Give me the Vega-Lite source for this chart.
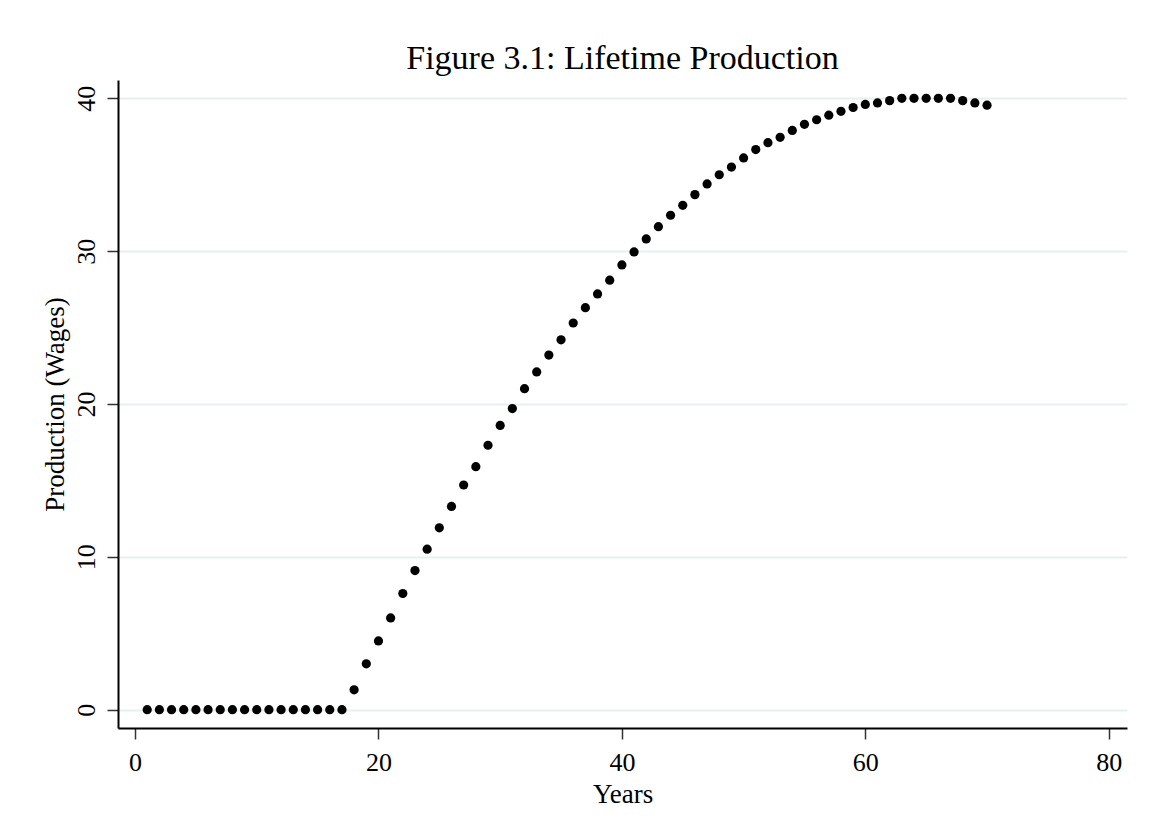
{
  "$schema": "https://vega.github.io/schema/vega-lite/v6.json",
  "width": 1009,
  "height": 648,
  "autosize": "none",
  "padding": {"left": 118, "top": 80, "right": 24, "bottom": 109},
  "background": "white",
  "title": {
    "text": "Figure 3.1: Lifetime Production",
    "font": "Liberation Serif",
    "fontSize": 34,
    "fontWeight": "normal",
    "color": "black",
    "anchor": "middle",
    "offset": 4
  },
  "config": {
    "view": {"stroke": null},
    "axis": {
      "labelFont": "Liberation Serif",
      "titleFont": "Liberation Serif",
      "labelFontSize": 26,
      "titleFontSize": 27,
      "titleFontWeight": "normal",
      "labelColor": "black",
      "titleColor": "black",
      "domainColor": "black",
      "domainWidth": 2,
      "tickColor": "#333333",
      "tickWidth": 1.5,
      "tickSize": 11
    }
  },
  "data": {
    "values": [
      {"year": 1, "wages": 0}, {"year": 2, "wages": 0}, {"year": 3, "wages": 0},
      {"year": 4, "wages": 0}, {"year": 5, "wages": 0}, {"year": 6, "wages": 0},
      {"year": 7, "wages": 0}, {"year": 8, "wages": 0}, {"year": 9, "wages": 0},
      {"year": 10, "wages": 0}, {"year": 11, "wages": 0}, {"year": 12, "wages": 0},
      {"year": 13, "wages": 0}, {"year": 14, "wages": 0}, {"year": 15, "wages": 0},
      {"year": 16, "wages": 0}, {"year": 17, "wages": 0},
      {"year": 18, "wages": 1.3}, {"year": 19, "wages": 3.0}, {"year": 20, "wages": 4.5},
      {"year": 21, "wages": 6.0}, {"year": 22, "wages": 7.6}, {"year": 23, "wages": 9.1},
      {"year": 24, "wages": 10.5}, {"year": 25, "wages": 11.9}, {"year": 26, "wages": 13.3},
      {"year": 27, "wages": 14.7}, {"year": 28, "wages": 15.9}, {"year": 29, "wages": 17.3},
      {"year": 30, "wages": 18.6}, {"year": 31, "wages": 19.7}, {"year": 32, "wages": 21.0},
      {"year": 33, "wages": 22.1}, {"year": 34, "wages": 23.2}, {"year": 35, "wages": 24.2},
      {"year": 36, "wages": 25.3}, {"year": 37, "wages": 26.3}, {"year": 38, "wages": 27.2},
      {"year": 39, "wages": 28.1}, {"year": 40, "wages": 29.1}, {"year": 41, "wages": 29.95},
      {"year": 42, "wages": 30.8}, {"year": 43, "wages": 31.6}, {"year": 44, "wages": 32.35},
      {"year": 45, "wages": 33.0}, {"year": 46, "wages": 33.7}, {"year": 47, "wages": 34.4},
      {"year": 48, "wages": 35.0}, {"year": 49, "wages": 35.5}, {"year": 50, "wages": 36.1},
      {"year": 51, "wages": 36.65}, {"year": 52, "wages": 37.1}, {"year": 53, "wages": 37.45},
      {"year": 54, "wages": 37.9}, {"year": 55, "wages": 38.3}, {"year": 56, "wages": 38.6},
      {"year": 57, "wages": 38.9}, {"year": 58, "wages": 39.15}, {"year": 59, "wages": 39.4},
      {"year": 60, "wages": 39.6}, {"year": 61, "wages": 39.7}, {"year": 62, "wages": 39.85},
      {"year": 63, "wages": 40.0}, {"year": 64, "wages": 40.0}, {"year": 65, "wages": 40.0},
      {"year": 66, "wages": 40.0}, {"year": 67, "wages": 40.0}, {"year": 68, "wages": 39.85},
      {"year": 69, "wages": 39.7}, {"year": 70, "wages": 39.55}
    ]
  },
  "mark": {"type": "circle", "color": "black", "opacity": 1, "size": 85},
  "encoding": {
    "x": {
      "field": "year",
      "type": "quantitative",
      "title": "Years",
      "scale": {"domain": [-1.4, 81.5], "nice": false, "zero": false},
      "axis": {
        "values": [0, 20, 40, 60, 80],
        "grid": false,
        "labelPadding": 10,
        "titlePadding": 6
      }
    },
    "y": {
      "field": "wages",
      "type": "quantitative",
      "title": "Production (Wages)",
      "scale": {"domain": [-1.2, 41.2], "nice": false, "zero": false},
      "axis": {
        "values": [0, 10, 20, 30, 40],
        "grid": true,
        "gridColor": "#e6eff1",
        "gridWidth": 2,
        "labelAngle": -90,
        "labelAlign": "center",
        "labelBaseline": "bottom",
        "labelPadding": 8,
        "titlePadding": 4
      }
    }
  }
}
